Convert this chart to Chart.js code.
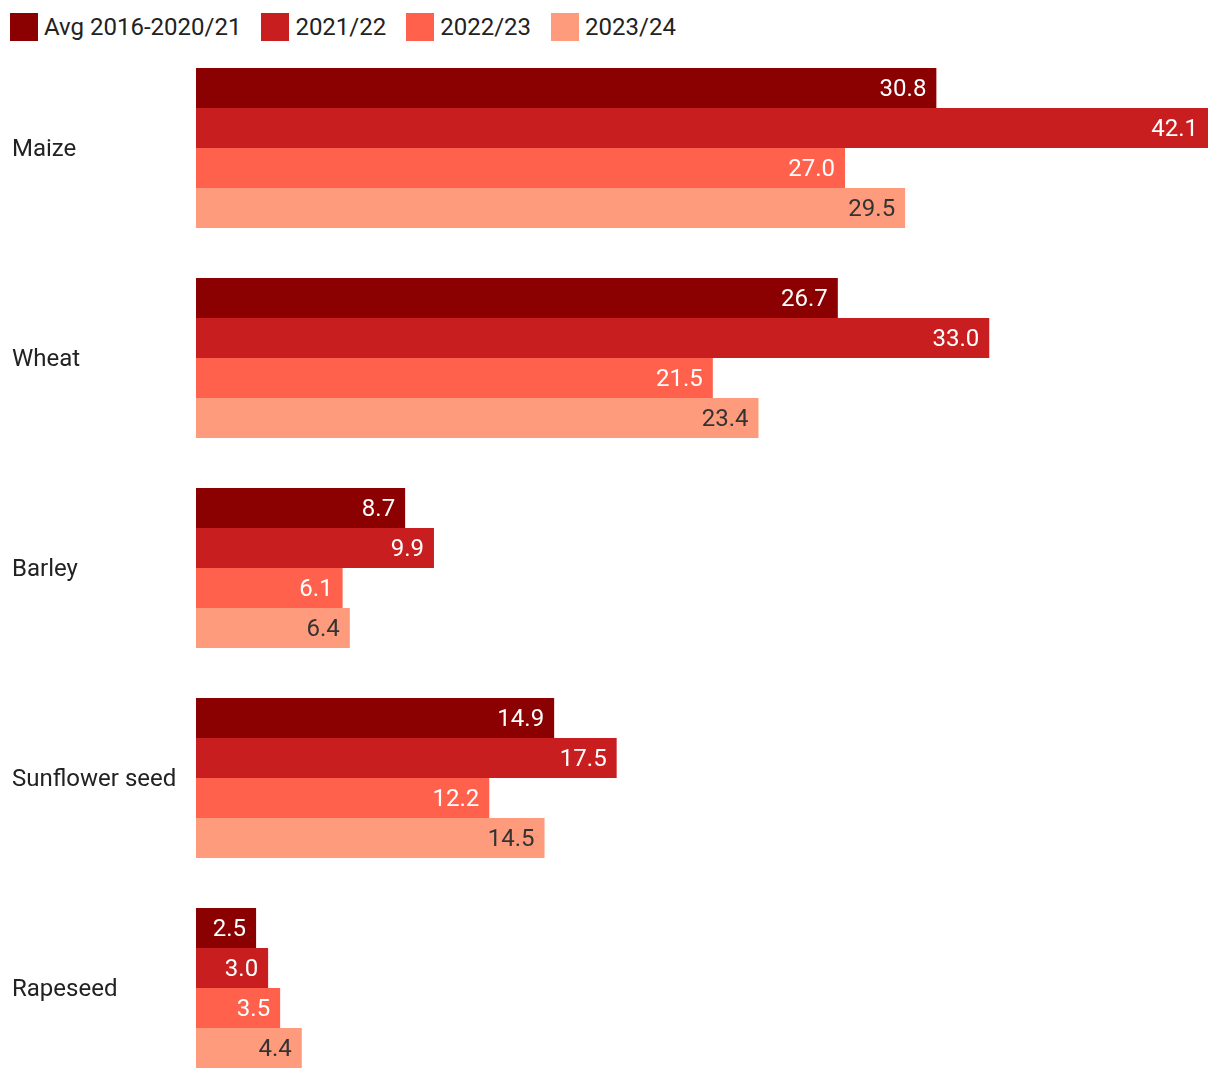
<!DOCTYPE html>
<html>
<head>
<meta charset="utf-8">
<script src="https://cdn.jsdelivr.net/npm/chart.js@4"></script>
<style>
  html, body { margin: 0; padding: 0; background: #fff; overflow: hidden; }
  body { width: 1220px; height: 1080px; position: relative; font-family: Roboto, sans-serif; }
  #legend { position: absolute; left: 10px; top: 13px; display: flex; align-items: center; }
  .item { display: flex; align-items: center; margin-right: 20px; font-size: 24px; color: #222; }
  .box { width: 28px; height: 28px; margin-right: 6px; }
  #wrap { position: absolute; left: 0; top: 43px; width: 1220px; height: 1050px; }
</style>
</head>
<body>
<div id="legend"></div>
<div id="wrap"><canvas id="chart"></canvas></div>
<script>
const crops = ['Maize', 'Wheat', 'Barley', 'Sunflower seed', 'Rapeseed'];
const seriesNames = ['Avg 2016-2020/21', '2021/22', '2022/23', '2023/24'];
const avg2016_2021 = [30.8, 26.7, 8.7, 14.9, 2.5];
const y2021_22 = [42.1, 33.0, 9.9, 17.5, 3.0];
const y2022_23 = [27.0, 21.5, 6.1, 12.2, 3.5];
const y2023_24 = [29.5, 23.4, 6.4, 14.5, 4.4];
const colors = ['#8B0000', '#C91E1F', '#FF614C', '#FF9B7D'];
const labelColors = ['#fff', '#fff', '#fff', '#333'];

const allSeries = [avg2016_2021, y2021_22, y2022_23, y2023_24];

// bar value labels, drawn inside the bar end
const valueLabels = {
  id: 'valueLabels',
  afterDatasetsDraw(chart) {
    const ctx = chart.ctx;
    ctx.save();
    ctx.font = '24px Roboto';
    ctx.textAlign = 'right';
    ctx.textBaseline = 'middle';
    chart.data.datasets.forEach((ds, i) => {
      const meta = chart.getDatasetMeta(i);
      ctx.fillStyle = labelColors[i];
      meta.data.forEach((bar, j) => {
        ctx.fillText(ds.data[j].toFixed(1), bar.x - 10, bar.y + 2);
      });
    });
    ctx.restore();
  }
};

const legendEl = document.getElementById('legend');
seriesNames.forEach((name, i) => {
  const item = document.createElement('div');
  item.className = 'item';
  item.innerHTML = '<span class="box" style="background:' + colors[i] + '"></span><span>' + name + '</span>';
  legendEl.appendChild(item);
});

new Chart(document.getElementById('chart'), {
  type: 'bar',
  data: {
    labels: crops,
    datasets: allSeries.map((values, i) => ({
      label: seriesNames[i],
      data: values,
      backgroundColor: colors[i],
      borderWidth: 0,
      categoryPercentage: 160 / 210,
      barPercentage: 1
    }))
  },
  options: {
    indexAxis: 'y',
    responsive: true,
    maintainAspectRatio: false,
    animation: false,
    layout: { padding: { left: 12, right: 12, top: 0, bottom: 0 } },
    plugins: {
      legend: { display: false },
      tooltip: { enabled: false }
    },
    scales: {
      x: {
        display: false,
        min: 0,
        max: 42.1
      },
      y: {
        grid: { display: false },
        border: { display: false },
        afterFit(scale) {
          scale.width = 184;
          scale.paddingTop = 0;
          scale.paddingBottom = 0;
        },
        ticks: {
          crossAlign: 'far',
          labelOffset: 2,
          color: '#222',
          font: { family: 'Roboto', size: 24 }
        }
      }
    }
  },
  plugins: [valueLabels]
});
</script>
</body>
</html>
